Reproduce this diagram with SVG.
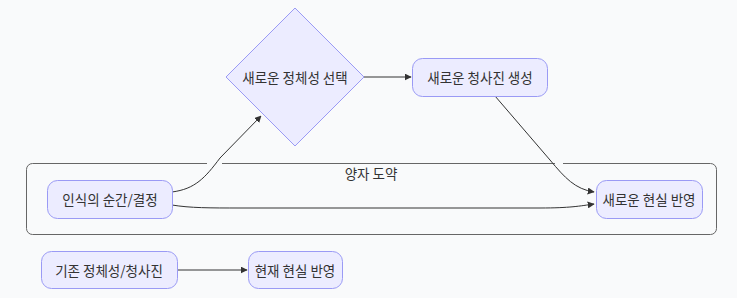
<svg xmlns="http://www.w3.org/2000/svg" width="737" height="298" viewBox="0 0 737 298">
<defs>
<style>
.node{fill:#ececff;stroke:#9a9af5;stroke-width:1}
.lbl{font-family:"Noto Sans CJK KR","Noto Sans",sans-serif;font-size:13.5px;fill:#333;text-anchor:middle;dominant-baseline:central}
.edge{fill:none;stroke:#333;stroke-width:1}
.cluster{fill:#f9fafb;stroke:#666;stroke-width:1}
</style>
<marker id="arr" viewBox="0 0 10 10" refX="9" refY="5" markerWidth="7" markerHeight="7" orient="auto-start-reverse" markerUnits="userSpaceOnUse">
<path d="M0,0 L10,5 L0,10 z" fill="#333"/>
</marker>
</defs>
<rect width="737" height="298" fill="#f9fafb"/>
<g id="cluster-quantum">
<rect class="cluster" x="26.5" y="163.5" width="690" height="71" rx="6"/>
<rect x="207" y="161" width="15" height="5" fill="#f9fafb"/>
<rect x="555" y="161" width="8" height="5" fill="#f9fafb"/>
<text class="lbl" x="371" y="173">양자 도약</text>
</g>
<g id="edges">
<path class="edge" d="M172,192 C195,189 205,178 220,158 L261,116" marker-end="url(#arr)"/>
<path class="edge" d="M172,205 C190,208 210,208 240,208 L540,208 C570,208 580,206 594,204" marker-end="url(#arr)"/>
<path class="edge" d="M364,77 L411,77" marker-end="url(#arr)"/>
<path class="edge" d="M495,96 L550,160 C565,178 575,189 594,192" marker-end="url(#arr)"/>
<path class="edge" d="M177,270 L247,270" marker-end="url(#arr)"/>
</g>
<g id="node-choice">
<polygon class="node" points="295,8 364,77 295,146 226,77"/>
<text class="lbl" x="295" y="77">새로운 정체성 선택</text>
</g>
<g id="node-blueprint">
<rect class="node" x="412.5" y="58.5" width="135" height="38" rx="10"/>
<text class="lbl" x="480" y="77">새로운 청사진 생성</text>
</g>
<g id="node-moment">
<rect class="node" x="47.5" y="180.5" width="125" height="38" rx="10"/>
<text class="lbl" x="110" y="199">인식의 순간/결정</text>
</g>
<g id="node-newreality">
<rect class="node" x="596.5" y="180.5" width="106" height="38" rx="10"/>
<text class="lbl" x="649" y="199">새로운 현실 반영</text>
</g>
<g id="node-existing">
<rect class="node" x="41.5" y="251.5" width="136" height="37" rx="10"/>
<text class="lbl" x="109" y="270">기존 정체성/청사진</text>
</g>
<g id="node-current">
<rect class="node" x="248.5" y="251.5" width="94" height="37" rx="10"/>
<text class="lbl" x="295" y="270">현재 현실 반영</text>
</g>
</svg>
